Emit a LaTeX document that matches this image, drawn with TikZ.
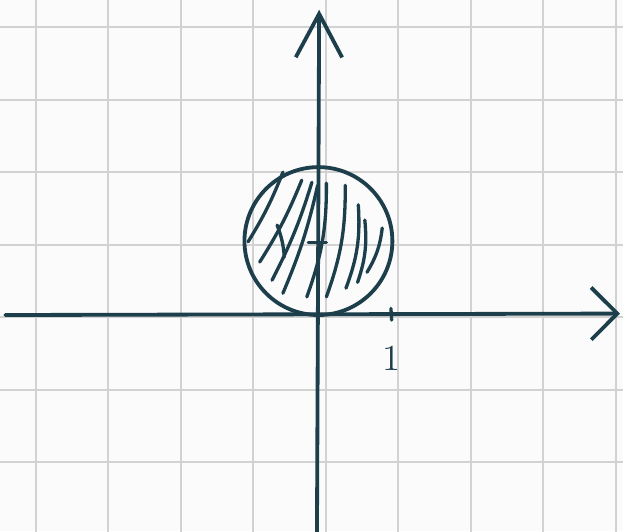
\documentclass[tikz,border=0pt]{standalone}
\usepackage{tikz}
\usetikzlibrary{arrows.meta}
\definecolor{tinta}{HTML}{1D3F4C}
\definecolor{rejilla}{HTML}{D2D2D2}
\definecolor{papel}{HTML}{FBFBFB}

\begin{document}
\begin{tikzpicture}[
 gridLine/.style={draw=rejilla,line width=0.8pt},
 axisLine/.style={draw=tinta,line width=1.5pt,line cap=round},
 hatchLine/.style={draw=tinta,line width=1.3pt,line cap=round},
 tickLabel/.style={text=tinta,font=\Large,inner sep=1pt}]
 % hoja cuadriculada
 \fill[papel] (-4.372,-2.979) rectangle (4.221,4.345);
 \useasboundingbox (-4.372,-2.979) rectangle (4.221,4.345);
 \begin{scope}
 \clip (-4.372,-2.979) rectangle (4.221,4.345);
 \draw[gridLine,shift={(0.12,-0.03)}] (-5,-4) grid (5,5);
 \end{scope}
 % ejes
 \coordinate (O) at (0,0);
 \coordinate (xIzq) at (-4.3,0);
 \coordinate (xDer) at (4.18,0.02);
 \coordinate (yAbajo) at (0,-3.0);
 \coordinate (yArriba) at (0.03,4.21);
 \draw[axisLine,-{Straight Barb[length=3.6mm,width=7.2mm]}] (xIzq) -- (xDer);
 \draw[axisLine,-{Straight Barb[length=6mm,width=6.4mm]}] (yAbajo) -- (yArriba);
 % disco centrado en (0,1)
 \coordinate (centro) at (0.02,1.02);
 \draw[axisLine] (centro) circle (1.02);
 \draw[hatchLine] (-0.12,1.0) -- (0.13,1.0);
 % rayado
 \draw[hatchLine] (-0.95,1.01) to[bend right=5] (-0.47,1.97);
 \draw[hatchLine] (-0.79,0.73) to[bend right=5] (-0.21,1.86);
 \draw[hatchLine] (-0.62,0.48) to[bend right=5] (-0.07,1.83);
 \draw[hatchLine] (-0.47,0.30) to[bend right=5] (0.01,1.79);
 \draw[hatchLine] (-0.14,0.25) to[bend right=10] (0.13,1.82);
 \draw[hatchLine] (0.13,0.25) to[bend right=10] (0.39,1.79);
 \draw[hatchLine] (0.40,0.37) to[bend right=12] (0.57,1.52);
 \draw[hatchLine] (0.56,0.45) to[bend right=12] (0.66,1.31);
 \draw[hatchLine] (0.69,0.59) to[bend right=12] (0.90,1.20);
 \draw[hatchLine] (-0.55,1.24) to[bend left=8] (-0.45,0.80);
 % marca en x=1
 \coordinate (tickArriba) at (1.02,0.09);
 \coordinate (tickAbajo) at (1.03,-0.07);
 \draw[hatchLine] (tickArriba) -- (tickAbajo);
 \node[tickLabel] (uno) at (1.03,-0.6) {1};
\end{tikzpicture}
\end{document}
